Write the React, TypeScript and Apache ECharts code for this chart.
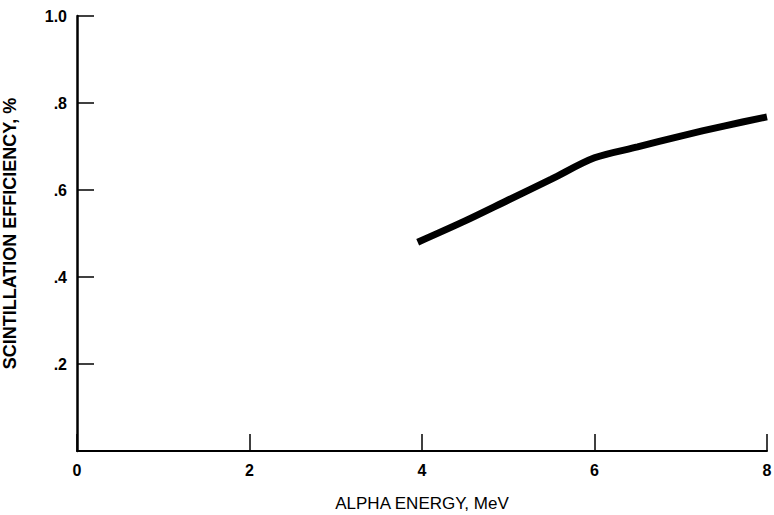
import React, { useEffect, useRef } from "react";
import * as echarts from "echarts";

const energy = [3.95, 4.5, 5, 5.5, 6, 6.5, 7, 7.5, 8];
const efficiency = [0.48, 0.529, 0.577, 0.625, 0.674, 0.699, 0.724, 0.747, 0.768];
const xTickLabels = ["0", "2", "4", "6", "8"];
const yTickLabels = ["", ".2", ".4", ".6", ".8", "1.0"];

export default function App() {
  const ref = useRef<HTMLDivElement>(null);
  useEffect(() => {
    if (!ref.current) return;
    const chart = echarts.init(ref.current, null, { renderer: "svg" });
    const font = "'Liberation Sans', Arial, Helvetica, sans-serif";
    chart.setOption({
      animation: false,
      backgroundColor: "#ffffff",
      grid: { left: 77, top: 16, right: 7, bottom: 64, containLabel: false, outerBoundsMode: "none" },
      xAxis: {
        type: "value",
        min: 0,
        max: 8,
        interval: 2,
        name: "ALPHA ENERGY, MeV",
        nameLocation: "middle",
        nameGap: 44,
        nameTextStyle: { color: "#000", fontFamily: font, fontSize: 17 },
        axisLine: { show: true, lineStyle: { color: "#000", width: 2 } },
        axisTick: { show: true, inside: true, length: 17, lineStyle: { color: "#000", width: 1.5 } },
        axisLabel: {
          color: "#000",
          fontFamily: font,
          fontWeight: "bold",
          fontSize: 16,
          margin: 11,
          showMaxLabel: true,
          formatter: (v: number) => xTickLabels[Math.round(v / 2)] ?? "",
        },
        splitLine: { show: false },
      },
      yAxis: {
        type: "value",
        min: 0,
        max: 1,
        interval: 0.2,
        name: "SCINTILLATION EFFICIENCY, %",
        nameLocation: "middle",
        nameGap: 58,
        nameRotate: 90,
        nameTextStyle: { color: "#000", fontFamily: font, fontSize: 18, fontWeight: "bold" },
        axisLine: { show: true, lineStyle: { color: "#000", width: 2.5 } },
        axisTick: { show: true, inside: true, length: 17, lineStyle: { color: "#000", width: 1.5 } },
        axisLabel: {
          color: "#000",
          fontFamily: font,
          fontWeight: "bold",
          fontSize: 16,
          margin: 10,
          formatter: (v: number) => yTickLabels[Math.round(v / 0.2)] ?? "",
        },
        splitLine: { show: false },
      },
      series: [
        {
          type: "line",
          data: energy.map((e, i) => [e, efficiency[i]]),
          smooth: 0.3,
          showSymbol: false,
          symbol: "none",
          lineStyle: { color: "#000", width: 7, cap: "butt" },
        },
      ],
    });
    return () => chart.dispose();
  }, []);
  return <div ref={ref} style={{ width: 774, height: 515, position: "absolute", left: 0, top: 0 }} />;
}
